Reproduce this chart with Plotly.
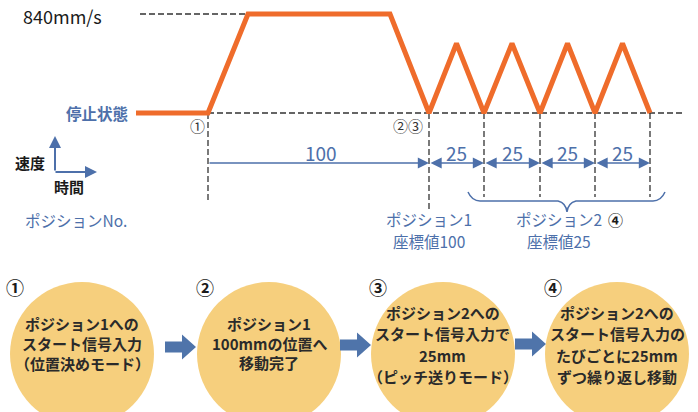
import plotly.graph_objects as go

# ---------------- data ----------------
# time in arbitrary units, t=0 at the start signal (1)
time_pts = [-72, 0, 40, 182, 221, 248.5, 276, 304, 332, 359.5, 387, 414.5, 442]
speed_pts = [0, 0, 840, 840, 0, 590, 0, 590, 0, 590, 0, 590, 0]
max_speed = 840
speed_label = "840mm/s"
stop_label = "停止状態"
move_bounds = [0, 221, 276, 332, 387, 442]   # times at which each move starts / ends
move_mm = [100, 25, 25, 25, 25]
step_titles = ["①", "②", "③", "④"]
step_texts = [
    ["ポジション1への", "スタート信号入力", "（位置決めモード）"],
    ["ポジション1", "100mmの位置へ", "移動完了"],
    ["ポジション2への", "スタート信号入力で", "25mm", "（ピッチ送りモード）"],
    ["ポジション2への", "スタート信号入力の", "たびごとに25mm", "ずつ繰り返し移動"],
]

# ---------------- styling / layout helpers ----------------
W, H = 698, 412
FONT = "Noto Sans CJK JP"
ORANGE = "#EF6C2B"
BLUE = "#4D70AA"
CIRCLE = "#F6CF7D"
DARK = "#222222"

ZERO_PY, TOP_PY = 113, 14          # pixel rows of speed 0 and max speed
k = max_speed / (ZERO_PY - TOP_PY)
y_range = [-(H - ZERO_PY) * k, max_speed + TOP_PY * k]
X0_PX = 208                        # pixel column of t = 0
x_range = [-X0_PX, W - X0_PX]


def X(px):
    return px / W


def Y(py):
    return 1 - py / H


def vy(py):
    return (ZERO_PY - py) * k


fig = go.Figure()
fig.add_trace(go.Scatter(x=time_pts, y=speed_pts, mode="lines",
                         line=dict(color=ORANGE, width=5), hoverinfo="skip",
                         showlegend=False))

shapes = []
ann = []

# dashed guides
shapes.append(dict(type="line", xref="x", yref="y", x0=-68, x1=time_pts[2], y0=max_speed, y1=max_speed,
                   line=dict(color="#333", width=1.3, dash="6px,3px"), layer="below"))
shapes.append(dict(type="line", xref="x", yref="y", x0=0, x1=477, y0=0, y1=0,
                   line=dict(color="#333", width=1.3, dash="6px,3px"), layer="below"))
for i, t in enumerate(move_bounds):
    bottom = 203 if i == 0 else (212 if i == 1 else 197)
    shapes.append(dict(type="line", xref="x", yref="paper", x0=t, x1=t, y0=Y(ZERO_PY), y1=Y(bottom),
                       line=dict(color="#333", width=1.3, dash="6px,3px"), layer="below"))

# distance arrows and labels
ARR_PY = 163
for i, mm in enumerate(move_mm):
    a, b = move_bounds[i], move_bounds[i + 1]
    ann.append(dict(x=b, y=vy(ARR_PY), ax=a, ay=vy(ARR_PY), xref="x", yref="y", axref="x", ayref="y",
                    text="", showarrow=True, arrowhead=2, arrowsize=1.4, arrowwidth=1.6,
                    arrowcolor=BLUE, arrowside="end" if i == 0 else "end+start",
                    standoff=0, startstandoff=0))
    ann.append(dict(x=(a + b) / 2 + (2 if i == 0 else 0), y=vy(152), xref="x", yref="y", text=str(mm),
                    showarrow=False, font=dict(family=FONT, size=19, color=BLUE)))

# brace under position 2 moves
bx0, bx1, bmid = 468, 665, 567
pts = [(bx0, 192), (bx0 + 4, 201), (bx0 + 12, 201), (bmid - 9, 201), (bmid - 1, 203), (bmid, 212),
       (bmid + 1, 203), (bmid + 9, 201), (bx1 - 12, 201), (bx1 - 4, 201), (bx1, 192)]
p = lambda q: f"{X(q[0]):.5f},{Y(q[1]):.5f}"
path = (f"M{p(pts[0])} Q{p(pts[1])} {p(pts[2])} L{p(pts[3])} Q{p(pts[4])} {p(pts[5])} "
        f"Q{p(pts[6])} {p(pts[7])} L{p(pts[8])} Q{p(pts[9])} {p(pts[10])}")
shapes.append(dict(type="path", xref="paper", yref="paper", path=path,
                   line=dict(color=BLUE, width=1.5)))

# axis icon (speed / time)
ann.append(dict(x=X(55), y=Y(136), ax=0, ay=36, xref="paper", yref="paper", text="", showarrow=True,
                arrowhead=2, arrowsize=1.2, arrowwidth=2, arrowcolor=BLUE, standoff=0))
ann.append(dict(x=X(97), y=Y(172), ax=-43, ay=0, xref="paper", yref="paper", text="", showarrow=True,
                arrowhead=2, arrowsize=1.2, arrowwidth=2, arrowcolor=BLUE, standoff=0))


def txt(px, py, s, size, color=DARK, weight=400, anchor="center"):
    ann.append(dict(x=X(px), y=Y(py), xref="paper", yref="paper", text=s, showarrow=False,
                    xanchor=anchor, yanchor="middle",
                    font=dict(family=FONT, size=size, color=color, weight=weight)))


txt(62, 16, speed_label, 18, "#1a1a1a")
txt(97, 113, stop_label, 15.5, BLUE, weight=700)
txt(197, 126, "①", 15, "#333")
txt(408, 126, "②③", 15, "#333")
txt(30, 162, "速度", 15, "#1a1a1a", weight=700)
txt(69, 186, "時間", 15, "#1a1a1a", weight=700)
txt(76, 220, "ポジションNo.", 15.5, BLUE)
txt(429, 219, "ポジション1", 15.5, BLUE)
txt(429, 241, "座標値100", 15.5, BLUE)
txt(559, 219, "ポジション2", 15.5, BLUE)
txt(615, 219, "④", 15, "#1a1a1a", weight=700)
txt(559, 241, "座標値25", 15.5, BLUE)

# bottom flow: circles, block arrows, step texts
centers = [82, 269, 443, 617]
CY, R = 354, 72
for cx in centers:
    shapes.append(dict(type="circle", xref="paper", yref="paper", x0=X(cx - R), x1=X(cx + R),
                       y0=Y(CY + R), y1=Y(CY - R), fillcolor=CIRCLE, line=dict(width=0), layer="below"))


def block_arrow(x0, cy, length=31, head=14, body=11, hh=25):
    xs = [x0, x0 + length - head, x0 + length - head, x0 + length, x0 + length - head, x0 + length - head, x0]
    ys = [cy - body / 2, cy - body / 2, cy - hh / 2, cy, cy + hh / 2, cy + body / 2, cy + body / 2]
    d = "M" + " L".join(f"{X(a):.5f},{Y(b):.5f}" for a, b in zip(xs, ys)) + " Z"
    shapes.append(dict(type="path", xref="paper", yref="paper", path=d, fillcolor="#4F74AA",
                       line=dict(width=0)))


block_arrow(165, 347)
block_arrow(340, 345)
block_arrow(515, 344)

num_pos = [(15, 287), (205, 287), (378, 287), (553, 287)]
for (nx, ny), s in zip(num_pos, step_titles):
    txt(nx, ny, s, 18, "#1a1a1a", weight=700)

line_ys = [[323, 343, 363], [323, 343, 362], [312, 333, 355, 376], [312, 333, 355, 376]]
for cx, lines, ys in zip(centers, step_texts, line_ys):
    for s, yy in zip(lines, ys):
        txt(cx, yy, s, 15, "#2a2a2a", weight=700)

fig.update_layout(
    width=W, height=H, margin=dict(l=0, r=0, t=0, b=0),
    paper_bgcolor="white", plot_bgcolor="white",
    xaxis=dict(range=x_range, visible=False, fixedrange=True),
    yaxis=dict(range=y_range, visible=False, fixedrange=True),
    shapes=shapes, annotations=ann, showlegend=False,
)
fig.write_html("out.html", config={"displayModeBar": False},
               post_script="document.body.style.margin='0';document.body.style.overflow='hidden';")
